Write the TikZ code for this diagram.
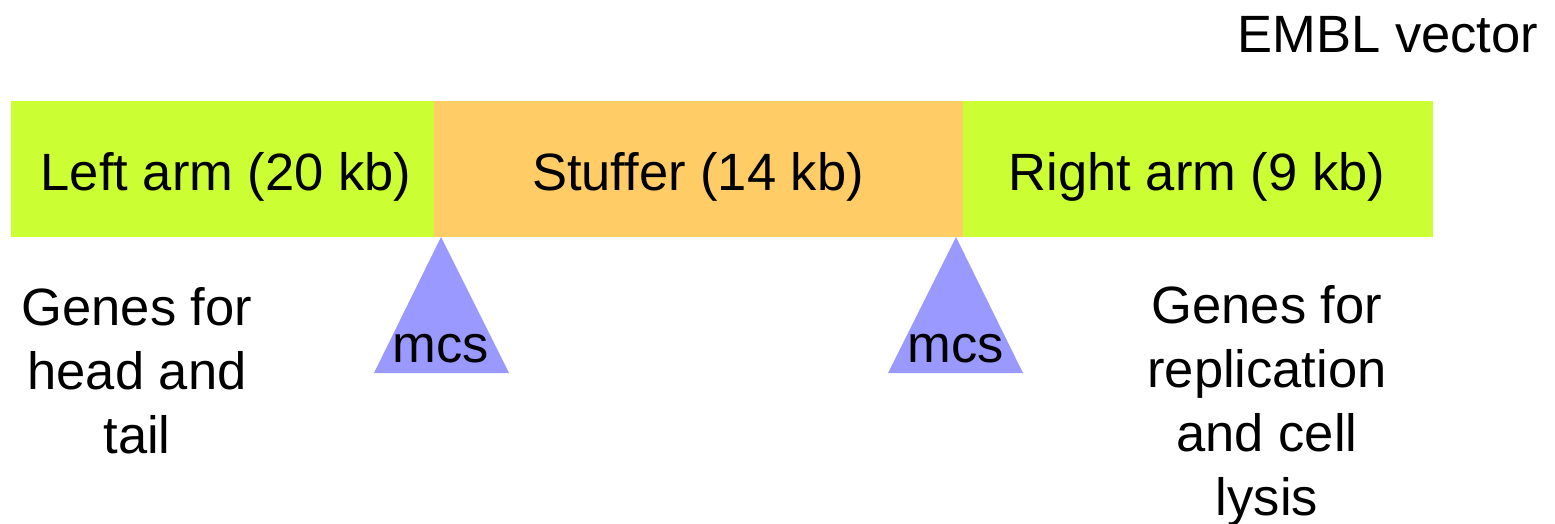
\documentclass[tikz,border=0pt]{standalone}
\usepackage{fontspec}
\setmainfont{Liberation Sans}
\definecolor{armgreen}{HTML}{CCFF33}
\definecolor{stufforange}{HTML}{FFCC66}
\definecolor{mcsblue}{HTML}{9999FF}
\begin{document}
\begin{tikzpicture}[x=1pt,y=-1pt,
  lbl/.style={inner sep=0pt,anchor=base,font=\fontsize{52.5}{64}\selectfont},
  multi/.style={lbl,align=center}]
\useasboundingbox (0,0) rectangle (1555,523);
% segments
\fill[armgreen] (11,101) rectangle (434,237);
\fill[stufforange] (434,101) rectangle (963,237);
\fill[armgreen] (963,101) rectangle (1433,237);
\node[lbl] (left) at (226,190) {Left arm (20 kb)};
\node[lbl] (stuffer) at (698,190) {Stuffer (14 kb)};
\node[lbl] (right) at (1197,190) {Right arm (9 kb)};
% title
\node[lbl] (title) at (1388,52) {EMBL vector};
% mcs triangles
\fill[mcsblue] (441,237) -- (374,373) -- (509,373) -- cycle;
\fill[mcsblue] (956,237) -- (888,373) -- (1023,373) -- cycle;
\node[lbl] (mcsA) at (441,362) {mcs};
\node[lbl] (mcsB) at (956,362) {mcs};
% gene notes (base anchor = last line)
\node[multi] (genesL) at (137,453) {Genes for\\head and\\tail};
\node[multi] (genesR) at (1267,515) {Genes for\\replication\\and cell\\lysis};
\end{tikzpicture}
\end{document}
